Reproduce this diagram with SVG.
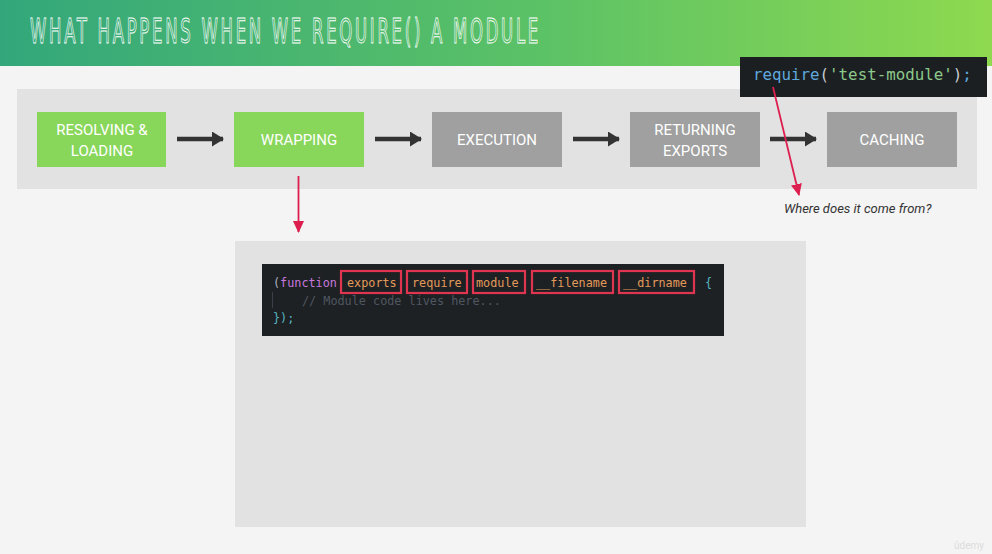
<svg xmlns="http://www.w3.org/2000/svg" width="992" height="554" viewBox="0 0 992 554">
  <defs>
    <linearGradient id="hdr" x1="0" y1="0" x2="1" y2="0">
      <stop offset="0" stop-color="#33a77b"/>
      <stop offset="0.55" stop-color="#5cc266"/>
      <stop offset="1" stop-color="#8ed94f"/>
    </linearGradient>
    <marker id="darkHead" viewBox="0 0 12 15" refX="11" refY="7.5" markerWidth="12" markerHeight="15" markerUnits="userSpaceOnUse" orient="auto">
      <path d="M0,0 L12,7.5 L0,15 Z" fill="#333333"/>
    </marker>
    <marker id="redHead" viewBox="0 0 12 11" refX="11" refY="5.5" markerWidth="12" markerHeight="11" markerUnits="userSpaceOnUse" orient="auto">
      <path d="M0,0 L12,5.5 L0,11 Z" fill="#dd1f4f"/>
    </marker>
  </defs>
  <style>
    .step text { font-family: Roboto, "Liberation Sans", sans-serif; font-size: 15px; fill: #ffffff; text-anchor: middle; }
    .green { fill: #88d65a; }
    .grey { fill: #a0a0a0; }
    .flow { stroke: #333333; stroke-width: 4.5; fill: none; marker-end: url(#darkHead); }
    .red { stroke: #dd1f4f; stroke-width: 1.8; fill: none; marker-end: url(#redHead); }
    .code { font-family: "DejaVu Sans Mono", "Liberation Mono", monospace; font-size: 11.8px; }
    .param { fill: #e29a5a; }
    .pbox { fill: none; stroke: #e03550; stroke-width: 2.2; }
  </style>

  <!-- page background -->
  <rect x="0" y="0" width="992" height="554" fill="#f4f4f4"/>

  <!-- header bar -->
  <rect x="0" y="0" width="992" height="66" fill="url(#hdr)"/>
  <text x="30" y="43" font-family="'Liberation Sans Narrow', 'DejaVu Sans Condensed', sans-serif" font-size="34" letter-spacing="5" fill="none" stroke="#ffffff" stroke-width="0.9" textLength="511" lengthAdjust="spacingAndGlyphs">WHAT HAPPENS WHEN WE REQUIRE() A MODULE</text>

  <!-- pipeline band -->
  <rect x="17" y="89" width="960" height="100" fill="#e2e2e2"/>

  <g id="step-resolving" class="step">
    <rect class="green" x="37" y="112" width="129" height="55"/>
    <text x="102" y="135">RESOLVING &amp;</text>
    <text x="102" y="156">LOADING</text>
  </g>
  <g id="step-wrapping" class="step">
    <rect class="green" x="234" y="112" width="130" height="55"/>
    <text x="299" y="145">WRAPPING</text>
  </g>
  <g id="step-execution" class="step">
    <rect class="grey" x="432" y="112" width="130" height="55"/>
    <text x="497" y="145">EXECUTION</text>
  </g>
  <g id="step-returning" class="step">
    <rect class="grey" x="630" y="112" width="130" height="55"/>
    <text x="695" y="135">RETURNING</text>
    <text x="695" y="156">EXPORTS</text>
  </g>
  <g id="step-caching" class="step">
    <rect class="grey" x="827" y="112" width="130" height="55"/>
    <text x="892" y="145">CACHING</text>
  </g>

  <!-- wrapper code panel -->
  <g id="wrapper-panel">
    <rect x="235" y="241" width="571" height="286" fill="#e2e2e2"/>
    <rect x="262" y="264" width="462" height="72" fill="#1e2124"/>
    <line x1="272.5" y1="292" x2="272.5" y2="308" stroke="#3b4048" stroke-width="1"/>
    <text class="code" y="287">
      <tspan x="273" fill="#abb2bf">(</tspan><tspan fill="#c678dd">function</tspan>
    </text>
    <text class="code param" x="347" y="287">exports</text>
    <text class="code param" x="412" y="287">require</text>
    <text class="code param" x="476" y="287">module</text>
    <text class="code param" x="536" y="287">__filename</text>
    <text class="code param" x="623" y="287">__dirname</text>
    <text class="code" x="705" y="287" fill="#56b6c2">{</text>
    <rect class="pbox" x="341" y="271" width="60" height="22"/>
    <rect class="pbox" x="407" y="271" width="60" height="22"/>
    <rect class="pbox" x="473" y="271" width="52" height="22"/>
    <rect class="pbox" x="532" y="271" width="81" height="22"/>
    <rect class="pbox" x="619" y="271" width="75" height="22"/>
    <text class="code" x="302" y="305" fill="#4f5660">// Module code lives here...</text>
    <text class="code" x="273" y="322" fill="#56b6c2">});</text>
  </g>

  <!-- require call snippet -->
  <g id="require-snippet">
    <rect x="740" y="57" width="247" height="40" fill="#1c1f22"/>
    <text x="753" y="80" font-family="'DejaVu Sans Mono', 'Liberation Mono', monospace" font-size="15.8"><tspan fill="#5fa8dd">require</tspan><tspan fill="#c8ccd2">(</tspan><tspan fill="#8cc98a">'test-module'</tspan><tspan fill="#c8ccd2">)</tspan><tspan fill="#5fa8dd">;</tspan></text>
  </g>

  <g id="question">
    <text x="784" y="213" font-family="Roboto, 'Liberation Sans', sans-serif" font-style="italic" font-size="13" fill="#333333">Where does it come from?</text>
  </g>

  <!-- connectors -->
  <g id="connectors">
    <line class="flow" x1="177" y1="139" x2="223" y2="139"/>
    <line class="flow" x1="375" y1="139" x2="421" y2="139"/>
    <line class="flow" x1="573" y1="139" x2="619" y2="139"/>
    <line class="flow" x1="770" y1="139" x2="816" y2="139"/>
    <line class="red" x1="298.5" y1="176" x2="298.5" y2="232"/>
    <line class="red" x1="773" y1="87" x2="799" y2="195"/>
  </g>

  <!-- watermark -->
  <text x="984" y="549" text-anchor="end" font-family="Roboto, 'Liberation Sans', sans-serif" font-size="10" fill="#dcdcdc">ûdemy</text>
</svg>
